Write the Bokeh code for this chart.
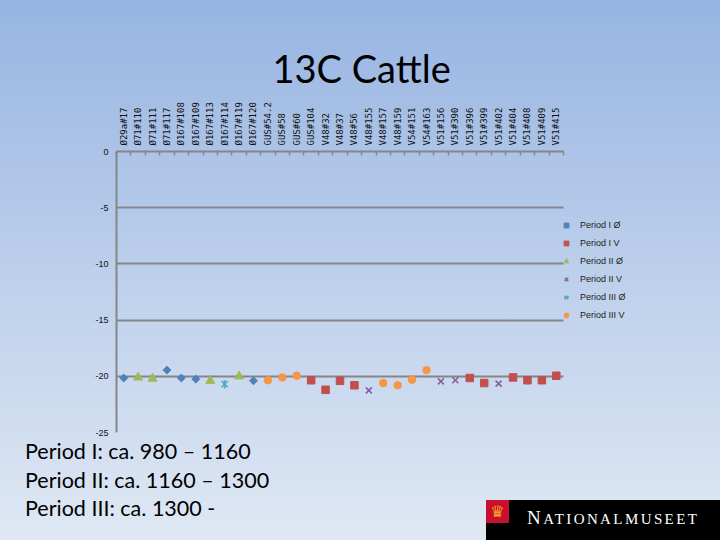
import numpy as np
from bokeh.plotting import figure
from bokeh.layouts import column, row
from bokeh.models import (Range1d, FixedTicker, Legend, LegendItem,
                          ColumnDataSource, Div)
from bokeh.embed import file_html
from bokeh.resources import INLINE

# ---------------- data ----------------
categories = ["Ø29a#17", "Ø71#110", "Ø71#111", "Ø71#117", "Ø167#108", "Ø167#109",
              "Ø167#113", "Ø167#114", "Ø167#119", "Ø167#120", "GUS#54.2", "GUS#58",
              "GUS#60", "GUS#104", "V48#32", "V48#37", "V48#56", "V48#155", "V48#157",
              "V48#159", "V54#151", "V54#163", "V51#156", "V51#390", "V51#396",
              "V51#399", "V51#402", "V51#404", "V51#408", "V51#409", "V51#415"]
d13c = [-20.15, -20.1, -20.2, -19.45, -20.15, -20.25,
        -20.4, -20.7, -20.0, -20.4, -20.35, -20.1,
        -19.95, -20.35, -21.2, -20.4, -20.8, -21.25, -20.6,
        -20.8, -20.3, -19.45, -20.45, -20.35, -20.15,
        -20.6, -20.65, -20.1, -20.35, -20.35, -19.95]
period = ["I Ø", "II Ø", "II Ø", "I Ø", "I Ø", "I Ø",
          "II Ø", "III Ø", "II Ø", "I Ø", "III V", "III V",
          "III V", "I V", "I V", "I V", "I V", "II V", "III V",
          "III V", "III V", "III V", "II V", "II V", "I V",
          "I V", "II V", "I V", "I V", "I V", "I V"]
series_names = ["I Ø", "I V", "II Ø", "II V", "III Ø", "III V"]
y_ticks = [-25, -20, -15, -10, -5, 0]
y_tick_labels = ["-25", "-20", "-15", "-10", "-5", "0"]
title_text = "13C Cattle"
note_lines = ["Period I: ca. 980 – 1160", "Period II: ca. 1160 – 1300", "Period III: ca. 1300 -"]
logo_text = ("N", "ATIONALMUSEET")

# ---------------- layout constants (pixels) ----------------
W = 720
LEFT, TOP, FRAME_H, PLOT_W = 116, 151, 281, 447   # category area is PLOT_W wide
FIG_H = 436
n = len(categories)
frame_w = W - LEFT
x_end = -0.5 + frame_w * n / PLOT_W              # frame extends right to hold the legend
idx = list(range(n))

p = figure(width=W, height=FIG_H, x_range=Range1d(-0.5, x_end),
           y_range=Range1d(-25, 0), x_axis_location="above",
           output_backend="svg", toolbar_location=None,
           min_border_left=LEFT, min_border_right=0,
           min_border_top=TOP, min_border_bottom=FIG_H - TOP - FRAME_H)
p.background_fill_color = None
p.border_fill_color = None
p.outline_line_color = None

p.title.text = title_text
p.title.align = "left"
p.title.offset = 272 - LEFT
p.title.standoff = 18
p.title.text_font = "Lato"
p.title.text_font_size = "38px"
p.title.text_font_style = "normal"
p.title.text_color = "#000000"

AX = "#868686"
p.xgrid.visible = False
xa = p.xaxis[0]
xa.ticker = FixedTicker(ticks=idx, minor_ticks=[i - 0.5 for i in range(n + 1)])
xa.major_label_overrides = {i: c for i, c in zip(idx, categories)}
xa.bounds = (-0.5, n - 0.5)
xa.major_label_orientation = np.pi / 2
xa.major_label_text_font = "DejaVu Sans Mono"
xa.major_label_text_font_size = "9px"
xa.major_label_standoff = 6
xa.minor_tick_in = 4
xa.minor_tick_out = 0
xa.minor_tick_line_color = AX
xa.minor_tick_line_width = 1.5

ya = p.yaxis[0]
ya.ticker = FixedTicker(ticks=y_ticks)
ya.major_label_overrides = dict(zip(y_ticks, y_tick_labels))
ya.major_label_text_font = "Liberation Sans"
ya.major_label_text_font_size = "9px"
ya.major_label_standoff = 8
ya.minor_tick_line_color = None

for ax in (xa, ya):
    ax.axis_line_color = AX
    ax.axis_line_width = 2
    ax.major_tick_in = 0
    ax.major_tick_out = 0
    ax.major_label_text_color = "#111111"

yg = p.ygrid[0]
if "cross_bounds" in yg.properties():
    yg.cross_bounds = (-0.5, n - 0.5)
    yg.grid_line_color = AX
    yg.grid_line_width = 2
else:
    yg.visible = False
    p.segment(x0=[-0.5] * len(y_ticks), x1=[n - 0.5] * len(y_ticks), y0=y_ticks,
              y1=y_ticks, line_color=AX, line_width=2, level="underlay")

styles = {
    "I Ø":   dict(marker="square", color="#4F81BD", size=5.6, angle=np.pi / 4),
    "I V":   dict(marker="square", color="#C0504D", size=7.5, angle=0.0),
    "II Ø":  dict(marker="triangle", color="#9BBB59", size=9, angle=0.0),
    "II V":  dict(marker="x", color="#8064A2", size=8.5, angle=0.0),
    "III Ø": dict(marker="x", color="#4BACC6", size=8.5, angle=0.0),
    "III V": dict(marker="circle", color="#F79646", size=7.5, angle=0.0),
}

items = []
for name in series_names:
    xs = [i for i, s in zip(idx, period) if s == name]
    ys = [v for v, s in zip(d13c, period) if s == name]
    src = ColumnDataSource(dict(x=xs, y=ys))
    st = styles[name]
    r = p.scatter("x", "y", source=src, marker=st["marker"], size=st["size"],
                  angle=st["angle"], fill_color=st["color"], line_color=st["color"],
                  line_width=1.6 if st["marker"] == "x" else 1)
    rs = [r]
    if name == "III Ø":
        r2 = p.scatter("x", "y", source=src, marker="dash", size=8.5, angle=np.pi / 2,
                       line_color=st["color"], line_width=1.6)
        rs.append(r2)
    items.append(LegendItem(label="Period " + name, renderers=rs))

legend = Legend(items=items, location=(444, 108), glyph_width=12, glyph_height=18,
                label_height=18, spacing=0, padding=0, margin=0, label_standoff=8,
                label_text_font="Liberation Sans", label_text_font_size="9px",
                label_text_color="#222222", border_line_color=None,
                background_fill_alpha=0)
p.add_layout(legend, "center")

# ---------------- text below the chart ----------------
notes_html = "".join(
    f'<div style="height:28.5px;line-height:28.5px;white-space:nowrap">{t}</div>'
    for t in note_lines)
notes = Div(text=notes_html, width=486, height=540 - FIG_H, margin=0,
            styles={"font-family": "Lato", "font-size": "21.5px", "color": "#000000",
                    "padding-left": "25px", "padding-top": "1px",
                    "box-sizing": "border-box"})

logo_html = (
    '<div style="position:relative;margin-top:64px;width:234px;height:40px;background:#000000">'
    '<div style="position:absolute;left:0;top:0;width:23px;height:23px;background:#C8102E;'
    'color:#F5A623;font-family:\'DejaVu Sans\';font-size:16px;line-height:23px;text-align:center">♛</div>'
    '<div style="position:absolute;left:41px;top:7px;color:#ffffff;font-family:\'Liberation Serif\';'
    'letter-spacing:2.4px;white-space:nowrap;line-height:22px">'
    f'<span style="font-size:19px">{logo_text[0]}</span>'
    f'<span style="font-size:15px">{logo_text[1]}</span></div></div>')
logo = Div(text=logo_html, width=W - 486, height=540 - FIG_H, margin=0)

layout = column(p, row(notes, logo, spacing=0), spacing=0,
                styles={"background": "linear-gradient(180deg, #97b4e2 0%, #bccfeb 50%, #dfe8f4 100%)"})

open("out.html", "w").write(file_html(layout, INLINE))
